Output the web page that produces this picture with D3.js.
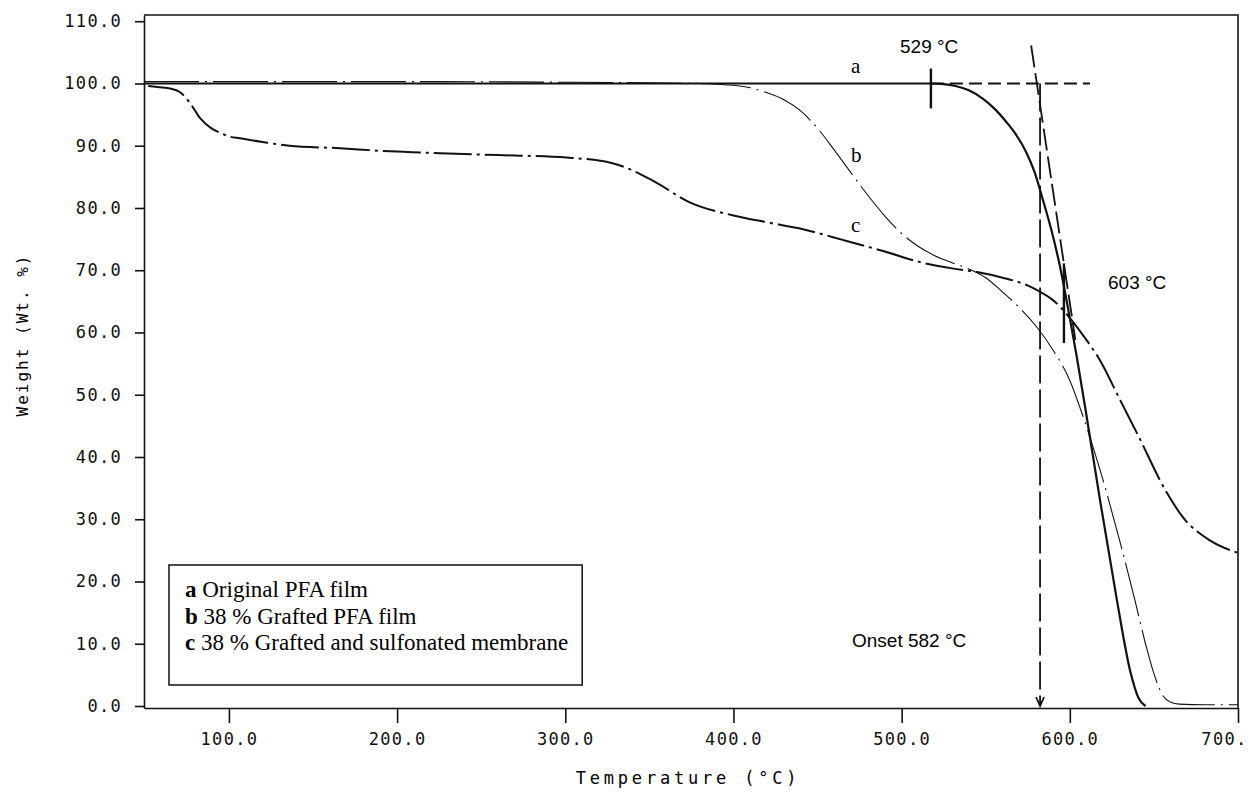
<!DOCTYPE html>
<html>
<head>
<meta charset="utf-8">
<script src="https://d3js.org/d3.v7.min.js"></script>
<style>
    body { margin: 0; background: #fff; }
    #tga-chart { width: 1248px; height: 793px; }
    .axis text { font-family: "DejaVu Sans Mono", monospace; font-size: 17px; letter-spacing: 1.3px; fill: #111; }
    .axis path, .axis line { stroke: #111; stroke-width: 1.6px; }
</style>
</head>
<body>
<div id="tga-chart"></div>
<script>
// TGA curves: temperature (C) and weight (%)
let tempA   = [49.5, 100, 200, 300, 400, 500, 517.4, 525, 532, 540, 548, 555, 562, 568, 574, 579, 584, 589, 594, 599, 604, 610, 618, 628, 636, 641, 645];
let weightA = [100, 100, 100, 100, 100, 100, 100, 99.9, 99.6, 98.9, 97.6, 96.0, 93.9, 91.8, 89.0, 85.8, 81.3, 76.5, 70.8, 63.8, 56.3, 46.5, 33.0, 17.0, 5.5, 1.2, 0];

let tempB   = [49.5, 100, 200, 300, 380, 395, 410, 420, 430, 440, 450, 460, 470, 480, 490, 500, 510, 520, 530, 540, 550, 560, 570, 580, 590, 600, 608, 618, 630, 638.7, 645, 650, 655, 660, 665, 680, 700];
let weightB = [100.3, 100.3, 100.3, 100.2, 100.0, 99.8, 99.3, 98.5, 97.4, 95.6, 92.8, 89.3, 85.6, 82.0, 78.7, 75.9, 73.8, 72.3, 71.2, 70.2, 68.8, 66.5, 64.0, 61.0, 57.2, 52.3, 46.4, 37.9, 26.2, 17, 10, 5.2, 1.8, 0.6, 0.3, 0.2, 0.2];

let tempC   = [52, 54.8, 65, 71, 77, 83, 89, 94.6, 100, 106.5, 120, 136, 166, 196, 225.5, 260, 301, 328, 352, 374, 400, 420, 439.5, 466, 490, 511, 530, 544.8, 560, 574.5, 580.5, 590, 598, 608, 618, 630, 640, 657.8, 667.3, 683.3, 700];
let weightC = [99.6, 99.5, 99.2, 98.6, 96.8, 94.4, 92.9, 92.1, 91.5, 91.2, 90.6, 90.0, 89.6, 89.1, 88.8, 88.5, 88.1, 87.2, 84.4, 80.9, 78.8, 77.7, 76.7, 74.8, 73.0, 71.3, 70.3, 69.7, 68.8, 67.6, 66.8, 65.2, 63, 59.5, 55.5, 49.1, 43.8, 34.2, 30.3, 26.6, 24.6];

let xTicks = [100, 200, 300, 400, 500, 600, 700];
let yTicks = [0, 10, 20, 30, 40, 50, 60, 70, 80, 90, 100, 110];

let legendKeys  = ["a", "b", "c"];
let legendTexts = [" Original PFA film", " 38 % Grafted PFA film", " 38 % Grafted and sulfonated membrane"];

// onset construction (positions as drawn in the figure)
let startMark   = {temp: 517.4, w1: 102.4, w2: 96};
let crossMark   = {temp: 596.5, w1: 71.1, w2: 58.3};
let baseExt     = {t1: 517.4, t2: 612, w: 100};
let tangentLine = {t1: 577, w1: 106.1, t2: 603.3, w2: 58.8};
let onsetTemp   = 582.3;


TgaChart = function (_parentElement) {
    this.parentElement = _parentElement;
    this.initVis();
};

TgaChart.prototype.initVis = function () {
    let vis = this;

    vis.margin = {top: 15, right: 10, bottom: 85, left: 144};
    vis.width = 1238 - vis.margin.left;
    vis.height = 708 - vis.margin.top;

    vis.svg = d3.select("#" + vis.parentElement).append("svg")
        .attr("width", 1248)
        .attr("height", 793)
        .append("g")
        .attr("transform", "translate(" + vis.margin.left + "," + vis.margin.top + ")");

    vis.x = d3.scaleLinear().domain([49.5, 700]).range([0, vis.width]);
    vis.y = d3.scaleLinear().domain([-0.32, 111]).range([vis.height, 0]);

    // axes
    vis.xAxis = vis.svg.append("g")
        .attr("class", "axis axis--x")
        .attr("transform", "translate(0," + vis.height + ")")
        .call(d3.axisBottom(vis.x).tickValues(xTicks).tickSize(15).tickPadding(10).tickSizeOuter(0)
            .tickFormat(d => d === 700 ? "700." : d3.format(".1f")(d)));

    // last label sits against the page edge like in the original
    vis.xAxis.selectAll(".tick text")
        .filter(d => d === 700)
        .attr("text-anchor", "end")
        .attr("x", 9);

    vis.svg.append("g")
        .attr("class", "axis axis--y")
        .call(d3.axisLeft(vis.y).tickValues(yTicks).tickSize(9).tickPadding(13).tickSizeOuter(0)
            .tickFormat(d3.format(".1f")));

    // top and right frame
    vis.svg.append("path")
        .attr("d", "M0,0H" + vis.width + "V" + vis.height)
        .attr("fill", "none")
        .attr("stroke", "#111")
        .attr("stroke-width", 1.6);

    // axis titles
    vis.svg.append("text")
        .attr("transform", "translate(" + (22 - vis.margin.left) + "," + (335 - vis.margin.top) + ") rotate(-90)")
        .attr("text-anchor", "middle")
        .attr("dominant-baseline", "central")
        .style("font-family", "DejaVu Sans Mono, monospace")
        .style("font-size", "16px")
        .style("letter-spacing", "2px")
        .text("Weight (Wt. %)");

    vis.svg.append("text")
        .attr("x", 688 - vis.margin.left)
        .attr("y", 784 - vis.margin.top)
        .attr("text-anchor", "middle")
        .style("font-family", "DejaVu Sans Mono, monospace")
        .style("font-size", "17px")
        .style("letter-spacing", "3.8px")
        .text("Temperature (\u00b0C)");

    vis.line = d3.line()
        .curve(d3.curveMonotoneX)
        .x(d => vis.x(d[0]))
        .y(d => vis.y(d[1]));

    // curves
    vis.svg.append("path")
        .datum(d3.zip(tempC, weightC))
        .attr("fill", "none")
        .attr("stroke", "#111")
        .attr("stroke-width", 2)
        .attr("stroke-dasharray", "38,5,3,5")
        .attr("d", vis.line);

    vis.svg.append("path")
        .datum(d3.zip(tempB, weightB))
        .attr("fill", "none")
        .attr("stroke", "#111")
        .attr("stroke-width", 1.1)
        .attr("stroke-dasharray", "55,6,2,6")
        .attr("d", vis.line);

    vis.svg.append("path")
        .datum(d3.zip(tempA, weightA))
        .attr("fill", "none")
        .attr("stroke", "#111")
        .attr("stroke-width", 2.2)
        .attr("d", vis.line);

    // onset construction lines
    vis.svg.append("line")
        .attr("x1", vis.x(baseExt.t1)).attr("x2", vis.x(baseExt.t2))
        .attr("y1", vis.y(baseExt.w)).attr("y2", vis.y(baseExt.w))
        .attr("stroke", "#111").attr("stroke-width", 2)
        .style("stroke-dasharray", "13,6");

    vis.svg.append("line")
        .attr("x1", vis.x(tangentLine.t1)).attr("x2", vis.x(tangentLine.t2))
        .attr("y1", vis.y(tangentLine.w1)).attr("y2", vis.y(tangentLine.w2))
        .attr("stroke", "#111").attr("stroke-width", 1.8)
        .style("stroke-dasharray", "22,6");

    vis.svg.append("line")
        .attr("x1", vis.x(onsetTemp)).attr("x2", vis.x(onsetTemp))
        .attr("y1", vis.y(100)).attr("y2", vis.y(0))
        .attr("stroke", "#111").attr("stroke-width", 1.8)
        .style("stroke-dasharray", "28,6");

    // arrow head
    vis.svg.append("path")
        .attr("d", "M" + (vis.x(onsetTemp) - 4) + "," + (vis.y(0) - 9) +
            "L" + vis.x(onsetTemp) + "," + vis.y(0) +
            "L" + (vis.x(onsetTemp) + 4) + "," + (vis.y(0) - 9))
        .attr("fill", "none")
        .attr("stroke", "#111")
        .attr("stroke-width", 1.8);

    // marks at 529 and 603
    [startMark, crossMark].forEach(function (m) {
        vis.svg.append("line")
            .attr("x1", vis.x(m.temp)).attr("x2", vis.x(m.temp))
            .attr("y1", vis.y(m.w1)).attr("y2", vis.y(m.w2))
            .attr("stroke", "#111")
            .attr("stroke-width", 2.4);
    });

    // annotations
    let sans = "Liberation Sans, Arial, sans-serif";
    vis.svg.append("text")
        .attr("x", 900 - vis.margin.left).attr("y", 53 - vis.margin.top)
        .style("font-family", sans).style("font-size", "19px")
        .text("529 \u00b0C");
    vis.svg.append("text")
        .attr("x", 1108 - vis.margin.left).attr("y", 289 - vis.margin.top)
        .style("font-family", sans).style("font-size", "19px")
        .text("603 \u00b0C");
    vis.svg.append("text")
        .attr("x", 852 - vis.margin.left).attr("y", 647 - vis.margin.top)
        .style("font-family", sans).style("font-size", "19px")
        .text("Onset 582 \u00b0C");

    // curve letters
    let serif = "Liberation Serif, Times New Roman, serif";
    [["a", 73], ["b", 162], ["c", 232]].forEach(function (l) {
        vis.svg.append("text")
            .attr("x", 851 - vis.margin.left)
            .attr("y", l[1] - vis.margin.top)
            .style("font-family", serif)
            .style("font-size", "21px")
            .text(l[0]);
    });

    // legend
    vis.legend = vis.svg.append("g")
        .attr("transform", "translate(" + (169 - vis.margin.left) + "," + (565 - vis.margin.top) + ")");

    let legendBox = vis.legend.append("rect")
        .attr("fill", "#fff")
        .attr("stroke", "#111")
        .attr("stroke-width", 1.5)
        .attr("height", 120);

    let maxW = 0;
    legendKeys.forEach(function (k, i) {
        let t = vis.legend.append("text")
            .attr("x", 16)
            .attr("y", 32 + i * 26.5)
            .style("font-family", serif)
            .style("font-size", "23px");
        t.append("tspan").style("font-weight", "bold").text(k);
        t.append("tspan").text(legendTexts[i]);
        maxW = Math.max(maxW, t.node().getComputedTextLength());
    });
    legendBox.attr("width", maxW + 30);
};

let tga = new TgaChart("tga-chart");
</script>
</body>
</html>
